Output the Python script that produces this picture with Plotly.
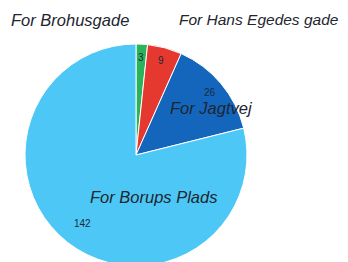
import numpy as np
import plotly.graph_objects as go

labels = ["For Brohusgade", "For Hans Egedes gade", "For Jagtvej", "For Borups Plads"]
values = [3, 9, 26, 142]
colors = ["#2bb35b", "#e5392f", "#1466bd", "#4dc8f6"]

W, H = 348, 262
off = 8  # page body margin
cx, cy, R = 136 - off, 155 - off, 111

fig = go.Figure(go.Pie(
    labels=labels, values=values, sort=False, direction="clockwise", rotation=0,
    marker=dict(colors=colors, line=dict(color="white", width=1)),
    textinfo="none",
    domain=dict(x=[(cx - R) / W, (cx + R) / W], y=[(H - cy - R) / H, (H - cy + R) / H]),
    showlegend=False, hoverinfo="label+value",
))

# value labels placed at each slice's mid angle
vals = np.array(values, dtype=float)
cum = np.cumsum(vals) - vals / 2
ang = np.deg2rad(cum / vals.sum() * 360)
rfrac = [0.88, 0.88, 0.87, 0.78]
for v, a, f in zip(values, ang, rfrac):
    px = cx + R * f * np.sin(a)
    py = cy - R * f * np.cos(a)
    fig.add_annotation(x=px / W, y=1 - py / H, xref="paper", yref="paper",
                       xanchor="center", yanchor="middle", text=str(v), showarrow=False,
                       font=dict(family="Liberation Sans", size=10, color="#1a2a3a"))

afont = dict(family="Liberation Sans", size=16.5, color="#1e2630")
tfont = dict(family="Liberation Sans", size=15.5, color="#1e2630")
fig.add_annotation(x=(9 - off) / W, y=1 - (20 - off) / H, xref="paper", yref="paper", xanchor="left", yanchor="middle",
                   text="<i>For Brohusgade</i>", showarrow=False, font=afont)
fig.add_annotation(x=(341 - off) / W, y=1 - (20 - off) / H, xref="paper", yref="paper", xanchor="right", yanchor="middle",
                   text="<i>For Hans Egedes gade</i>", showarrow=False, font=tfont)
fig.add_annotation(x=(212 - off) / W, y=1 - (108 - off) / H, xref="paper", yref="paper", xanchor="center", yanchor="middle",
                   text="<i>For Jagtvej</i>", showarrow=False, font=afont)
fig.add_annotation(x=(153 - off) / W, y=1 - (197 - off) / H, xref="paper", yref="paper", xanchor="center", yanchor="middle",
                   text="<i>For Borups Plads</i>", showarrow=False, font=afont)

fig.update_layout(width=W, height=H, margin=dict(l=0, r=0, t=0, b=0),
                  paper_bgcolor="white", plot_bgcolor="white")
fig.write_html("out.html")
